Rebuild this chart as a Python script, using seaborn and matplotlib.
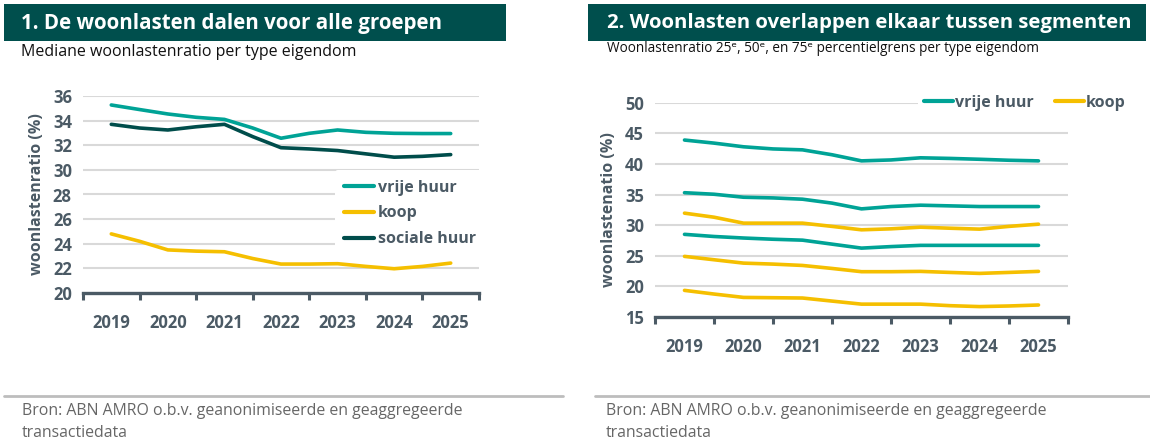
import numpy as np
import pandas as pd
import matplotlib
matplotlib.use("Agg")
import matplotlib.pyplot as plt
from matplotlib.patches import Rectangle
from matplotlib.lines import Line2D
from matplotlib.ticker import MultipleLocator, FixedLocator
import seaborn as sns

# ---------------- data ----------------
periods = [2019, 2019.5, 2020, 2020.5, 2021, 2021.5, 2022, 2022.5, 2023, 2023.5, 2024, 2024.5, 2025]
year_labels = ["2019", "2020", "2021", "2022", "2023", "2024", "2025"]

# chart 1: median ratio
med_vrije_huur = [35.27, 34.9, 34.54, 34.27, 34.1, 33.4, 32.57, 32.97, 33.24, 33.05, 32.97, 32.95, 32.95]
med_koop = [24.8, 24.2, 23.5, 23.4, 23.35, 22.8, 22.35, 22.35, 22.38, 22.16, 21.97, 22.16, 22.43]
med_sociale_huur = [33.7, 33.4, 33.24, 33.5, 33.7, 32.7, 31.8, 31.7, 31.57, 31.3, 31.03, 31.1, 31.24]

# chart 2: percentiles
vh_p75 = [43.9, 43.4, 42.8, 42.45, 42.3, 41.5, 40.5, 40.65, 41.0, 40.9, 40.76, 40.6, 40.5]
vh_p50 = [35.3, 35.05, 34.56, 34.45, 34.24, 33.6, 32.66, 33.04, 33.26, 33.15, 33.04, 33.04, 33.04]
vh_p25 = [28.5, 28.15, 27.9, 27.7, 27.55, 26.9, 26.25, 26.5, 26.7, 26.7, 26.7, 26.7, 26.7]
koop_p75 = [31.96, 31.3, 30.33, 30.33, 30.33, 29.8, 29.24, 29.4, 29.67, 29.5, 29.35, 29.8, 30.16]
koop_p50 = [24.9, 24.35, 23.8, 23.64, 23.42, 22.93, 22.4, 22.4, 22.45, 22.28, 22.12, 22.28, 22.45]
koop_p25 = [19.35, 18.75, 18.2, 18.15, 18.1, 17.6, 17.1, 17.1, 17.1, 16.85, 16.7, 16.8, 16.96]

# ---------------- styling ----------------
TEAL = "#00A396"
YELLOW = "#F5BF00"
DARK = "#004D4B"
HEADER = "#004F4D"
TXT = "#4B5A65"
GRID = "#D9D9D9"
SPINE = "#4B5A65"

sns.set_theme(style="white")
plt.rcParams["font.family"] = ["Open Sans", "DejaVu Sans"]

W, H = 1150, 448
fig = plt.figure(figsize=(W / 100, H / 100), dpi=100)
fig.patch.set_facecolor("white")


def fx(px):
    return px / W


def fy(py):
    return 1 - py / H


# headers
for (x0, x1, title, tx, fs) in [(4, 506, "1. De woonlasten dalen voor alle groepen", 21, 14.8),
                                (588, 1146, "2. Woonlasten overlappen elkaar tussen segmenten", 607, 14.7)]:
    fig.patches.append(Rectangle((fx(x0), fy(41)), fx(x1) - fx(x0), fy(4) - fy(41),
                                 transform=fig.transFigure, facecolor=HEADER, edgecolor="none", zorder=0))
    fig.text(fx(tx), fy(23), title, color="white", fontsize=fs, fontweight="bold",
             va="center", ha="left")

fig.text(fx(21), fy(52), "Mediane woonlastenratio per type eigendom", fontsize=11.5,
         color="#111111", va="center", ha="left")
fig.text(fx(607), fy(49), "Woonlastenratio 25ᵉ, 50ᵉ, en 75ᵉ percentielgrens per type eigendom",
         fontsize=9.8, color="#111111", va="center", ha="left", family=["Open Sans", "DejaVu Sans"])

# footers
for (x0, x1, tx) in [(4, 563, 22), (595, 1150, 606)]:
    fig.lines.append(Line2D([fx(x0), fx(x1)], [fy(396), fy(396)], transform=fig.transFigure,
                            color="#BDBDBD", lw=2))
    fig.text(fx(tx), fy(411), "Bron: ABN AMRO o.b.v. geanonimiseerde en geaggregeerde",
             fontsize=11.4, color="#666666", va="center", ha="left",
             family=["Liberation Sans Narrow", "Open Sans", "DejaVu Sans"])
    fig.text(fx(tx), fy(433), "transactiedata", fontsize=11.4, color="#666666", va="center",
             ha="left", family=["Liberation Sans Narrow", "Open Sans", "DejaVu Sans"])


def style_axes(ax, ymin, ymax, ystep, ylabel):
    ax.set_xlim(2018.5, 2025.5)
    ax.set_ylim(ymin, ymax)
    ax.yaxis.set_major_locator(MultipleLocator(ystep))
    ax.xaxis.set_major_locator(FixedLocator([int(y) for y in year_labels]))
    ax.set_xticklabels(year_labels)
    ax.xaxis.set_minor_locator(FixedLocator(np.arange(2018.5, 2026, 1.0)))
    ax.grid(axis="y", color=GRID, lw=1.5, zorder=0)
    ax.set_axisbelow(True)
    for s in ["top", "right", "left"]:
        ax.spines[s].set_visible(False)
    ax.spines["bottom"].set_color(SPINE)
    ax.spines["bottom"].set_linewidth(2.4)
    ax.tick_params(axis="x", which="major", bottom=True, length=0, pad=15, labelsize=12,
                   labelcolor=TXT)
    ax.tick_params(axis="x", which="minor", bottom=True, length=5, width=2.2, color=SPINE,
                   direction="out")
    ax.tick_params(axis="y", length=0, pad=8, labelsize=12, labelcolor=TXT)
    for lab in ax.get_xticklabels() + ax.get_yticklabels():
        lab.set_fontweight("bold")
    ax.set_xlabel("")
    ax.set_ylabel(ylabel, fontsize=11.5, fontweight="bold", color=TXT, labelpad=6)


def style_legend(leg):
    leg.get_frame().set_facecolor("white")
    leg.get_frame().set_edgecolor("none")
    leg.get_frame().set_alpha(1)
    for t in leg.get_texts():
        t.set_color(TXT)
        t.set_fontweight("bold")
    for l in leg.get_lines():
        l.set_linewidth(3)


# ---------------- chart 1 ----------------
df1 = pd.DataFrame({
    "jaar": periods * 3,
    "ratio": med_vrije_huur + med_koop + med_sociale_huur,
    "type": ["vrije huur"] * 13 + ["koop"] * 13 + ["sociale huur"] * 13,
})
ax1 = fig.add_axes([fx(83), fy(293), fx(479) - fx(83), fy(96) - fy(293)])
sns.lineplot(data=df1, x="jaar", y="ratio", hue="type",
             palette={"vrije huur": TEAL, "koop": YELLOW, "sociale huur": DARK},
             lw=2.6, ax=ax1, legend=True, estimator=None)
style_axes(ax1, 20, 36, 2, "woonlastenratio (%)")
leg1 = ax1.legend(loc="upper left", bbox_to_anchor=(0.615, 0.665), frameon=True, fontsize=11.5,
                  handlelength=1.85, handletextpad=0.25, labelspacing=0.62, borderpad=0.6)
style_legend(leg1)

# ---------------- chart 2 ----------------
df2 = pd.DataFrame({
    "jaar": periods * 6,
    "ratio": vh_p75 + vh_p50 + vh_p25 + koop_p75 + koop_p50 + koop_p25,
    "type": ["vrije huur"] * 39 + ["koop"] * 39,
    "perc": (["p75"] * 13 + ["p50"] * 13 + ["p25"] * 13) * 2,
})
ax2 = fig.add_axes([fx(655), fy(317), fx(1068) - fx(655), fy(102.7) - fy(317)])
sns.lineplot(data=df2, x="jaar", y="ratio", hue="type", units="perc", estimator=None,
             palette={"vrije huur": TEAL, "koop": YELLOW}, lw=2.6, ax=ax2, legend=True)
style_axes(ax2, 15, 50, 5, "woonlastenatio (%)")
leg2 = ax2.legend(loc="center right", bbox_to_anchor=(1.175, 1.0), ncol=2, frameon=True,
                  fontsize=11.5, handlelength=1.8, handletextpad=0.15, columnspacing=1.3,
                  borderpad=0.4)
style_legend(leg2)

fig.savefig("out.png", dpi=100, facecolor="white")
